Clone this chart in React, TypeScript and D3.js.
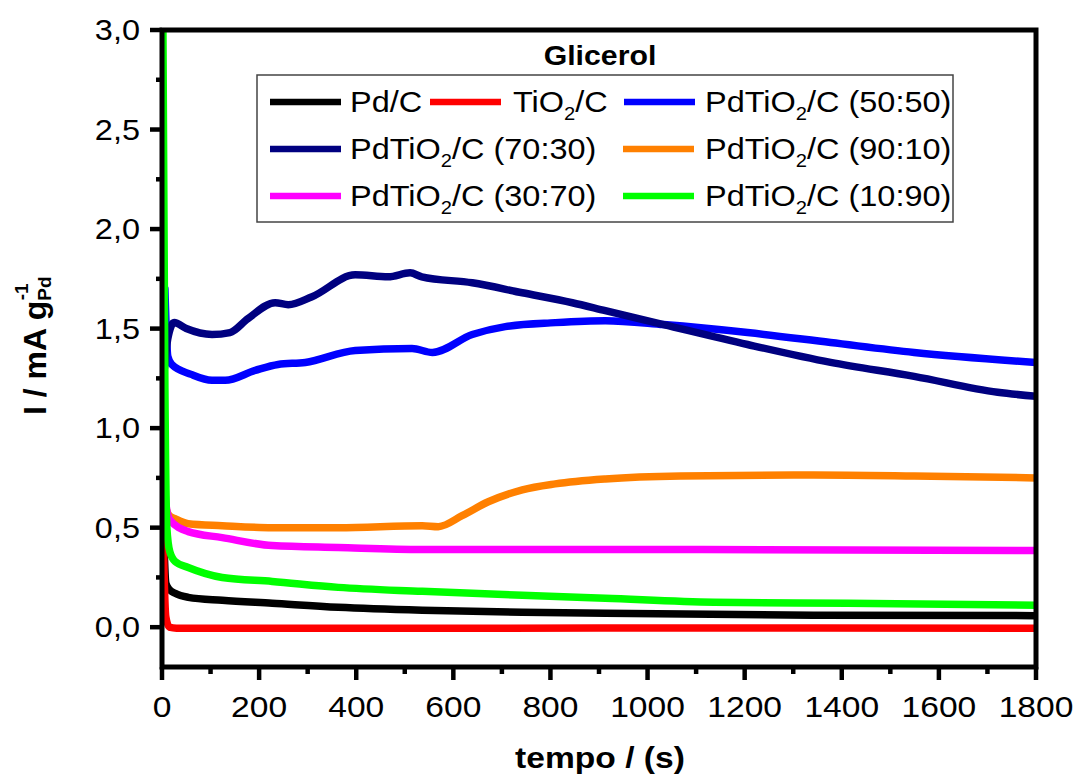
import React from "react";
import * as d3 from "d3";

// chronoamperometry, glicerol — I (mA/g Pd) vs tempo (s)
const pdC = [[3, 0.5], [8, 0.22], [15, 0.19], [27, 0.17], [54, 0.15], [124, 0.135], [227, 0.12], [363, 0.1], [536, 0.085], [742, 0.075], [913, 0.07], [1342, 0.06], [1800, 0.058]];
const tio2C = [[1, 0.68], [4, 0.3], [8, 0.05], [15, 0.0], [30, -0.005], [600, -0.005], [1200, -0.004], [1800, -0.005]];
const pd5050 = [[6, 1.7], [12, 1.36], [20, 1.32], [60, 1.27], [103, 1.24], [130, 1.24], [192, 1.29], [239, 1.32], [295, 1.33], [398, 1.39], [515, 1.4], [557, 1.38], [639, 1.47], [707, 1.51], [810, 1.53], [913, 1.54], [1033, 1.52], [1206, 1.48], [1377, 1.43], [1549, 1.38], [1800, 1.33]];
const pd7030 = [[5, 1.3], [12, 1.45], [25, 1.53], [50, 1.5], [103, 1.47], [140, 1.48], [177, 1.55], [233, 1.63], [260, 1.62], [309, 1.66], [398, 1.77], [466, 1.76], [511, 1.78], [535, 1.76], [639, 1.73], [742, 1.68], [845, 1.63], [913, 1.59], [1033, 1.52], [1206, 1.42], [1377, 1.33], [1549, 1.26], [1721, 1.18], [1800, 1.16]];
const pd9010 = [[3, 0.7], [8, 0.6], [15, 0.56], [27, 0.545], [54, 0.52], [124, 0.51], [227, 0.5], [363, 0.5], [536, 0.51], [569, 0.505], [618, 0.56], [672, 0.63], [742, 0.69], [810, 0.72], [913, 0.745], [1068, 0.76], [1342, 0.765], [1549, 0.76], [1800, 0.75]];
const pd3070 = [[2, 0.95], [8, 0.62], [16, 0.54], [54, 0.48], [124, 0.45], [227, 0.41], [363, 0.4], [536, 0.39], [913, 0.39], [1800, 0.385]];
const pd1090 = [[1, 3.4], [6, 1.2], [10, 0.5], [16, 0.38], [27, 0.33], [54, 0.3], [124, 0.25], [227, 0.23], [363, 0.2], [536, 0.18], [742, 0.16], [913, 0.145], [1137, 0.125], [1413, 0.12], [1800, 0.11]];

const seriesNames = ["Pd/C", "TiO2/C", "PdTiO2/C (50:50)", "PdTiO2/C (70:30)", "PdTiO2/C (90:10)", "PdTiO2/C (30:70)", "PdTiO2/C (10:90)"];
const seriesData = [pdC, tio2C, pd5050, pd7030, pd9010, pd3070, pd1090];
const colors = ["#000000", "#ff0000", "#0000ff", "#000080", "#ff8000", "#ff00ff", "#00ff00"];

const xTicks = [0, 200, 400, 600, 800, 1000, 1200, 1400, 1600, 1800];
const yTicks = [0, 0.5, 1, 1.5, 2, 2.5, 3];

const FONT = "'Liberation Sans', Arial, sans-serif";
const SX = 1.12;

const Label = ({ name, x, y }) => {
  // split "PdTiO2/C (..)" so the 2 goes subscript
  const i = name.indexOf("O2");
  if (i < 0)
    return <text transform={`translate(${x},${y}) scale(${SX},1)`} fontSize={29}>{name}</text>;
  return (
    <text transform={`translate(${x},${y}) scale(${SX},1)`} fontSize={29}>
      {name.slice(0, i + 1)}
      <tspan fontSize={18} dy={8}>2</tspan>
      <tspan dy={-8}>{name.slice(i + 2)}</tspan>
    </text>
  );
};

export default function App() {
  const x = d3.scaleLinear().domain([0, 1800]).range([162, 1036]);
  const y = d3.scaleLinear().domain([-0.2, 3]).range([667, 30]);

  const line = d3.line().x(d => x(d[0])).y(d => y(d[1])).curve(d3.curveMonotoneX);

  const minorX = d3.range(100, 1800, 200);
  const minorY = d3.range(0.25, 3, 0.5);

  // legend slots: [lineX, textX, rowY]
  const legendPos = [
    [270, 350, 102], [430, 513, 102], [624, 705, 102],
    [270, 350, 149], [623, 705, 149],
    [270, 350, 196], [623, 705, 196],
  ];

  return (
    <svg width={1076} height={781} style={{ position: "absolute", left: 0, top: 0, background: "#fff" }} fontFamily={FONT}>
      <defs>
        <clipPath id="plot">
          <rect x={x(0)} y={y(3)} width={x(1800) - x(0)} height={y(-0.2) - y(3)} />
        </clipPath>
      </defs>

      <g clipPath="url(#plot)" fill="none" strokeWidth={7.5} strokeLinejoin="round" strokeLinecap="round">
        {seriesData.map((d, i) => (
          <path key={i} d={line(d)} stroke={colors[i]} />
        ))}
      </g>

      {/* frame */}
      <rect x={x(0)} y={y(3)} width={x(1800) - x(0)} height={y(-0.2) - y(3)} fill="none" stroke="#000" strokeWidth={5} />

      {/* x axis */}
      {xTicks.map(t => (
        <g key={t}>
          <line x1={x(t)} x2={x(t)} y1={y(-0.2)} y2={y(-0.2) + 13} stroke="#000" strokeWidth={4.5} />
          <text transform={`translate(${x(t)},717) scale(${SX},1)`} textAnchor="middle" fontSize={30}>{t}</text>
        </g>
      ))}
      {minorX.map(t => (
        <line key={t} x1={x(t)} x2={x(t)} y1={y(-0.2)} y2={y(-0.2) + 7} stroke="#000" strokeWidth={4.5} />
      ))}

      {/* y axis */}
      {yTicks.map(v => (
        <g key={v}>
          <line x1={x(0) - 12} x2={x(0)} y1={y(v)} y2={y(v)} stroke="#000" strokeWidth={4.5} />
          <text transform={`translate(140,${y(v) + 10}) scale(${SX},1)`} textAnchor="end" fontSize={29}>
            {d3.format(".1f")(v).replace(".", ",")}
          </text>
        </g>
      ))}
      {minorY.map(v => (
        <line key={v} x1={x(0) - 6} x2={x(0)} y1={y(v)} y2={y(v)} stroke="#000" strokeWidth={4.5} />
      ))}

      {/* axis titles */}
      <text transform={`translate(600,768) scale(${SX},1)`} textAnchor="middle" fontSize={30} fontWeight="bold">tempo / (s)</text>
      <g transform="translate(46,415) rotate(-90)">
        <text fontSize={32} fontWeight="bold">
          I / mA g
          <tspan fontSize={19} dy={5}>Pd</tspan>
          <tspan fontSize={19} dx={-24} dy={-23}>-1</tspan>
        </text>
      </g>

      {/* legend */}
      <text transform={`translate(600,65) scale(${SX},1)`} textAnchor="middle" fontSize={27} fontWeight="bold">Glicerol</text>
      <rect x={257} y={75} width={696} height={147} fill="#fff" stroke="#444" strokeWidth={1.5} />
      {seriesNames.map((n, i) => {
        const [lx, tx, ry] = legendPos[i];
        return (
          <g key={n}>
            <line x1={lx} x2={lx + 71} y1={ry} y2={ry} stroke={colors[i]} strokeWidth={6.5} />
            <Label name={n} x={tx} y={ry + 10} />
          </g>
        );
      })}
    </svg>
  );
}
